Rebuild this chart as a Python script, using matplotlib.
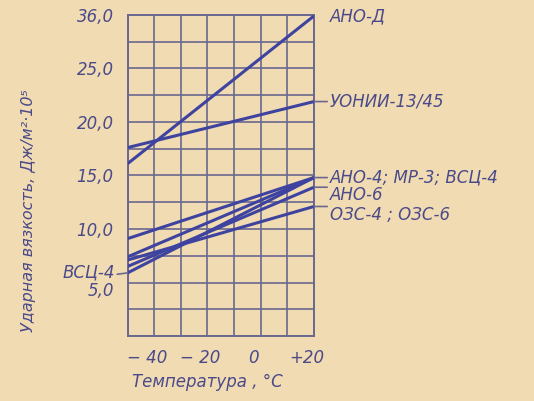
import numpy as np
import matplotlib
matplotlib.use("Agg")
import matplotlib.pyplot as plt
from matplotlib.transforms import ScaledTranslation

# ---- data ----
temps = [-50, 20]
ano_d = [16.1, 29.9]
uonii = [17.6, 21.9]
ano4 = [9.1, 14.8]
mr3 = [7.4, 14.8]
vsc4 = [5.9, 14.8]
ano6 = [6.5, 13.9]
ozs = [7.1, 12.1]

x_ticks = [-40, -20, 0, 20]
x_tick_labels = ["− 40", "− 20", "0", "+20"]
y_ticks = [5, 10, 15, 20, 25, 30]
y_tick_labels = ["5,0", "10,0", "15,0", "20,0", "25,0", "36,0"]

right_labels = ["АНО-Д", "УОНИИ-13/45", "АНО-4; МР-3; ВСЦ-4", "АНО-6", "ОЗС-4 ; ОЗС-6"]
left_label = "ВСЦ-4"

# ---- style ----
bg = "#f1dbb2"
ink = "#3e43a0"
grid_c = "#6a6890"
text_c = "#4a4a8a"

plt.rcParams["font.family"] = ["DejaVu Sans"]
fig = plt.figure(figsize=(5.34, 4.01), dpi=100, facecolor=bg)
ax = fig.add_axes([0.239, 0.162, 0.349, 0.801], facecolor=bg)

series = [ano_d, uonii, ano4, mr3, vsc4, ano6, ozs]
for s in series:
    ax.plot(temps, s, color=ink, lw=2.2, solid_capstyle="butt", zorder=3)

ax.set_xlim(-50, 20)
ax.set_ylim(0, 30)
ax.set_xticks(np.arange(-50, 21, 10), minor=True)
ax.set_yticks(np.arange(0, 30.1, 2.5), minor=True)
ax.set_xticks(x_ticks, x_tick_labels)
ax.set_yticks(y_ticks, y_tick_labels)
ax.grid(which="both", color=grid_c, lw=1.2)
ax.set_axisbelow(True)
ax.tick_params(which="both", length=0, colors=text_c, labelsize=12)
ax.tick_params(axis="y", pad=10)
ax.tick_params(axis="x", pad=9)
for lab in ax.get_xticklabels() + ax.get_yticklabels():
    lab.set_fontstyle("italic")
for lab in ax.get_xticklabels():
    lab.set_transform(lab.get_transform() + ScaledTranslation(-7 / 100, 0, fig.dpi_scale_trans))
# the lowest y label sits a little below its grid line in the original
ylabs = ax.get_yticklabels()
ylabs[0].set_transform(ylabs[0].get_transform() + ScaledTranslation(0, -6 / 100, fig.dpi_scale_trans))
for sp in ax.spines.values():
    sp.set_color(grid_c)
    sp.set_linewidth(1.4)

ax.set_xlabel("Температура , °C", fontsize=12, style="italic", color=text_c)
ax.xaxis.set_label_coords(0.43, -0.115)
ax.set_ylabel("Ударная вязкость, Дж/м²·10⁵", fontsize=11.5, style="italic", color=text_c)
ax.yaxis.set_label_coords(-0.49, 0.39)

# right-side labels with short leaders
ends = [ano_d[1], uonii[1], ano4[1], ano6[1], ozs[1]]
leaders = [False, True, True, True, True]
dys = [0, 0, 0, -5.8, -5.8]
for lab, y, lead, dy in zip(right_labels, ends, leaders, dys):
    if lead:
        ax.annotate("", xy=(temps[1], y), xytext=(9.5, 0), textcoords="offset points",
                    arrowprops=dict(arrowstyle="-", color=grid_c, lw=1.2,
                                    shrinkA=0, shrinkB=0), annotation_clip=False)
    ax.annotate(lab, xy=(temps[1], y), xytext=(11.5, dy), textcoords="offset points",
                ha="left", va="center", fontsize=12, style="italic", color=text_c,
                annotation_clip=False)

# left label for ВСЦ-4
ax.annotate("", xy=(temps[0], vsc4[0]), xytext=(-7.5, -1), textcoords="offset points",
            arrowprops=dict(arrowstyle="-", color=grid_c, lw=1.2, shrinkA=0, shrinkB=0),
            annotation_clip=False)
ax.annotate(left_label, xy=(temps[0], vsc4[0]), xytext=(-9, 0.5), textcoords="offset points",
            ha="right", va="center", fontsize=12, style="italic", color=text_c,
            annotation_clip=False)

fig.savefig("out.png", dpi=100, facecolor=bg)
